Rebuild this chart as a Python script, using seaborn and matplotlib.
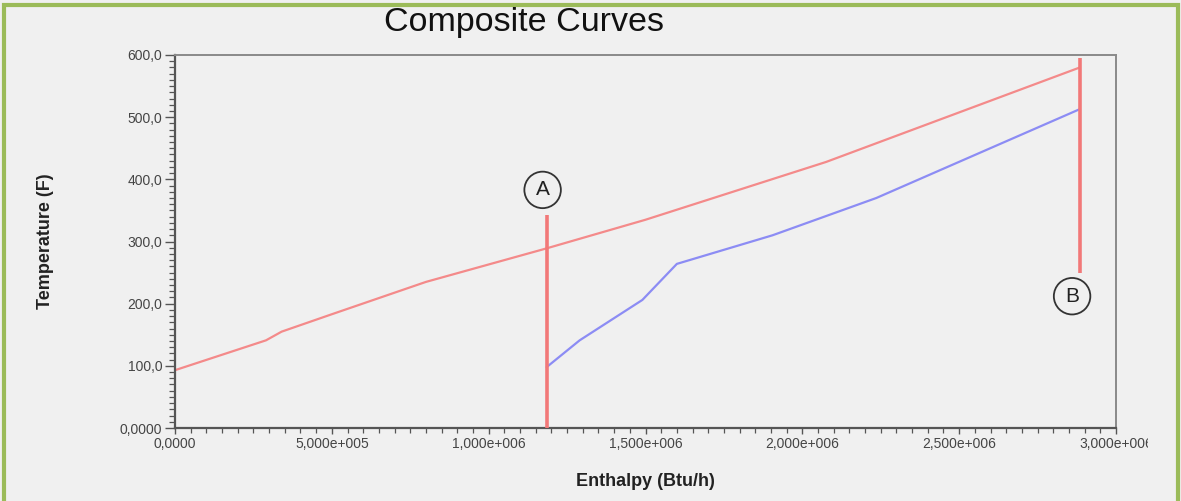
import numpy as np
import pandas as pd
import matplotlib
matplotlib.use("Agg")
import matplotlib.pyplot as plt
from matplotlib.patches import Rectangle
from matplotlib.ticker import MultipleLocator, FixedLocator
from matplotlib.transforms import Bbox
import seaborn as sns

# Hot composite curve (enthalpy in Btu/h, temperature in F)
hot_enthalpy = [0.0, 0.29e6, 0.34e6, 0.50e6, 0.80e6, 1.185e6, 1.50e6, 2.076e6, 2.885e6]
hot_temp = [93, 141, 155, 183, 235, 289, 335, 428, 580]

# Cold composite curve
cold_enthalpy = [1.185e6, 1.29e6, 1.49e6, 1.60e6, 1.905e6, 2.236e6, 2.885e6]
cold_temp = [98, 141, 206, 264, 310, 370, 513]

# Marker lines A and B: enthalpy position and temperature span
marker_names = ["A", "B"]
marker_enthalpy = [1.185e6, 2.885e6]
marker_low = [0, 249]
marker_high = [342, 595]

x_ticks = [0, 0.5e6, 1.0e6, 1.5e6, 2.0e6, 2.5e6, 3.0e6]
x_tick_labels = ["0,0000", "5,000e+005", "1,000e+006", "1,500e+006",
                 "2,000e+006", "2,500e+006", "3,000e+006"]
y_ticks = [0, 100, 200, 300, 400, 500, 600]
y_tick_labels = ["0,0000", "100,0", "200,0", "300,0", "400,0", "500,0", "600,0"]

BG = "#f0f0f0"
HOT = "#f48a8a"
COLD = "#8c8cf4"
MARK = "#f27878"
TICK_TXT = "#454545"

sns.set_theme(style="white")
plt.rcParams["font.family"] = ["Liberation Sans", "DejaVu Sans"]

fig = plt.figure(figsize=(11.81, 5.01), dpi=100, facecolor=BG)
ax = fig.add_axes([175 / 1181, 1 - 428 / 501, (1116 - 175) / 1181, (428 - 55) / 501])
ax.set_facecolor(BG)

curves = pd.concat([
    pd.DataFrame({"Enthalpy": hot_enthalpy, "Temperature": hot_temp, "Stream": "Hot"}),
    pd.DataFrame({"Enthalpy": cold_enthalpy, "Temperature": cold_temp, "Stream": "Cold"}),
])
sns.lineplot(data=curves, x="Enthalpy", y="Temperature", hue="Stream",
             palette={"Hot": HOT, "Cold": COLD}, estimator=None, sort=False,
             linewidth=1.6, legend=False, ax=ax)

# Vertical marker lines with circled labels
circle_pos = [(1.172e6, 383), (2.86e6, 212)]
for name, xe, lo, hi, (cx, cy) in zip(marker_names, marker_enthalpy, marker_low,
                                       marker_high, circle_pos):
    ax.vlines(xe, lo, hi, colors=MARK, linewidth=2.6, zorder=3)
    ax.text(cx, cy, name, ha="center", va="center", fontsize=15, color="#222222",
            bbox=dict(boxstyle="circle,pad=0.42", facecolor=BG, edgecolor="#333333",
                      linewidth=1.3), zorder=4)

ax.set_xlim(0, 3.0e6)
ax.set_ylim(0, 600)
ax.xaxis.set_major_locator(FixedLocator(x_ticks))
ax.yaxis.set_major_locator(FixedLocator(y_ticks))
ax.set_xticklabels(x_tick_labels)
ax.set_yticklabels(y_tick_labels)
ax.xaxis.set_minor_locator(MultipleLocator(0.5e5))
ax.yaxis.set_minor_locator(MultipleLocator(10))

ax.tick_params(axis="both", which="both", direction="out", colors="#555555",
               labelcolor=TICK_TXT, labelsize=10, bottom=True, left=True,
               top=False, right=False)
ax.tick_params(axis="y", which="major", length=7, width=1, pad=2)
ax.tick_params(axis="y", which="minor", length=4.5, width=0.9)
ax.tick_params(axis="x", which="major", length=4.5, width=1, pad=2)
ax.tick_params(axis="x", which="minor", length=3.5, width=0.9)

for side in ["left", "bottom"]:
    ax.spines[side].set_color("#555555")
    ax.spines[side].set_linewidth(1.6)
for side in ["top", "right"]:
    ax.spines[side].set_color("#8a8a8a")
    ax.spines[side].set_linewidth(1.4)

ax.set_xlabel("Enthalpy (Btu/h)", fontsize=13, fontweight="bold", color="#222222")
ax.set_ylabel("Temperature (F)", fontsize=13, fontweight="bold", color="#222222")
ax.xaxis.set_label_coords((645 - 175) / 941, (428 - 473) / 373)
ax.yaxis.set_label_coords((54 - 175) / 941, 0.5)
fig.text(524 / 1181, 1 - 22 / 501, "Composite Curves", ha="center", va="center",
         fontsize=24.5, color="#111111")

# Outer frame
fig.patches.append(Rectangle((4 / 1181, -0.05), (1178 - 4) / 1181, 1.05 - 5 / 501,
                             transform=fig.transFigure, fill=False,
                             edgecolor="#9bbb59", linewidth=3))

# The rightmost tick label runs into the frame edge and is cut there
fig.canvas.draw()
last = ax.get_xticklabels()[-1]
last.set_clip_box(Bbox.from_extents(0, 0, 1148, 501))
last.set_clip_on(True)

fig.savefig("out.png", dpi=100, facecolor=BG)
